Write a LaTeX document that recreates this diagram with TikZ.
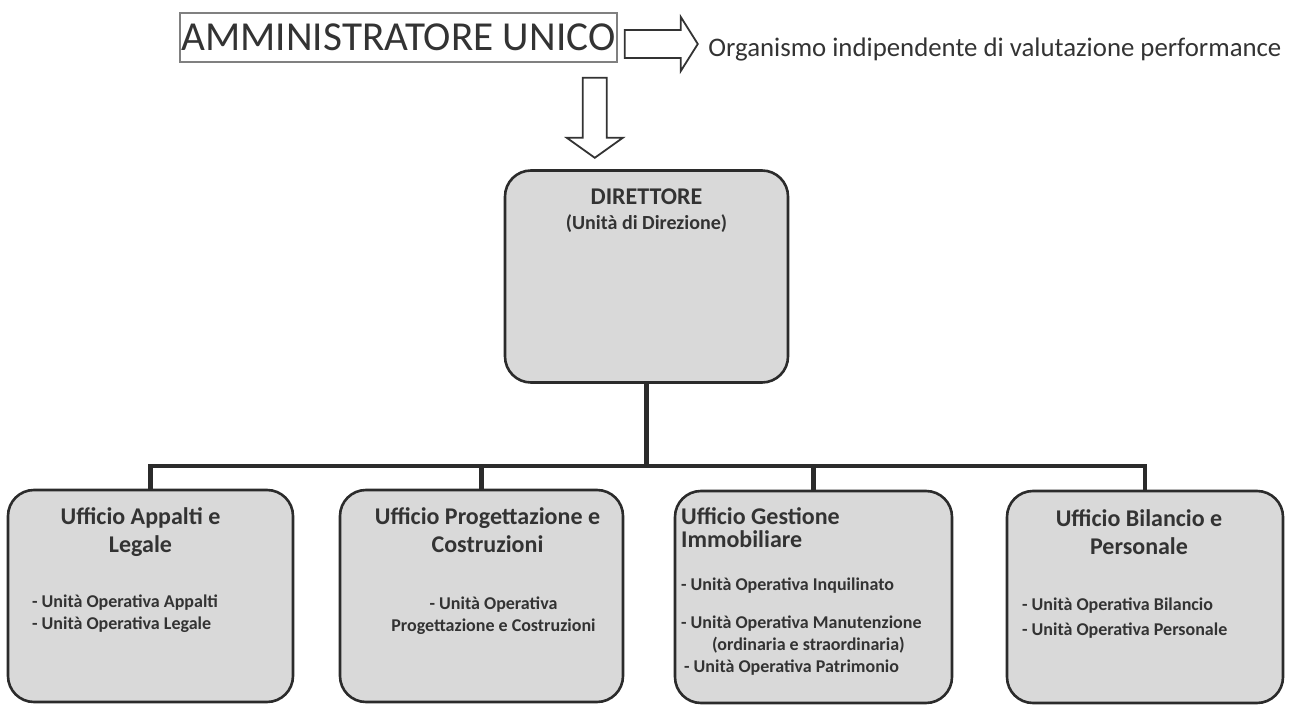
\documentclass[tikz,border=0pt]{standalone}
\usepackage{fontspec}
\setmainfont{Carlito}
\usetikzlibrary{positioning,calc}
\definecolor{boxfill}{HTML}{D9D9D9}
\definecolor{boxline}{HTML}{2B2B2B}
\definecolor{inkgray}{HTML}{333333}

\begin{document}
\begin{tikzpicture}[x=0.5pt, y=-0.5pt, every node/.style={inner sep=0pt, text=inkgray}]
        \tikzset{officebox/.style={draw=boxline, fill=boxfill, line width=1.3pt, rounded corners=13pt, minimum height=106pt}}
        \tikzset{boxtitle/.style={font=\fontsize{12}{14}\selectfont\bfseries, align=center}}
        \tikzset{unitlist/.style={font=\fontsize{9}{11}\selectfont\bfseries, align=left}}
        \tikzset{blockarrow/.style={draw=inkgray, line width=0.9pt, fill=white}}
        \tikzset{linkline/.style={draw=boxline, line width=2.3pt}}
        \useasboundingbox (0,0) rectangle (1289,705);
        % top level
        \node[draw=gray, line width=0.8pt, minimum width=218.5pt, minimum height=24.5pt, font=\fontsize{20.6}{24}\selectfont] (amm) at (398.5,37.5) {AMMINISTRATORE UNICO};
        \node[anchor=base west, font=\fontsize{13.4}{16}\selectfont] (oiv) at (708,57) {Organismo indipendente di valutazione performance};
        \draw[blockarrow] ($(amm.east)+(7,-7.5)$) -- ++(56,0) -- ++(0,-13) -- ++(17,27) -- ++(-17,27) -- ++(0,-13) -- ++(-56,0) -- cycle;
        \draw[blockarrow] ($(amm.south east)+(-35,15)$) -- ++(24,0) -- ++(0,60) -- ++(16,0) -- ++(-28,20) -- ++(-28,-20) -- ++(16,0) -- cycle;
        % direzione
        \node[officebox, minimum width=141.5pt] (dir) at (646.5,276.5) {};
        \node[below=17.5pt of dir.north, anchor=base, font=\fontsize{12}{14}\selectfont\bfseries] (dirname) {DIRETTORE};
        \node[below=12.5pt of dirname.base, anchor=base, font=\fontsize{10}{12}\selectfont\bfseries] (dirunit) {(Unità di Direzione)};
        % uffici
        \node[officebox, minimum width=142.5pt] (app) at (150.5,596) {};
        \node[officebox, minimum width=141.5pt] (prog) at (481.5,596) {};
        \node[officebox, minimum width=138.5pt] (imm) at (813.5,597) {};
        \node[officebox, minimum width=138pt] (bil) at (1145,597) {};
        \coordinate (bus) at (0,466);
        \foreach \u in {app,prog,imm,bil}
          \draw[linkline] (dir.south) -- (dir.south |- bus) -| (\u.north);
        \node[boxtitle, below=9.5pt of app.north, xshift=-5pt] (apptitle) {Ufficio Appalti e\\Legale};
        \node[unitlist, below right=53pt and 12.5pt of app.north west] (appunits) {- Unità Operativa Appalti\\- Unità Operativa Legale};
        \node[boxtitle, below=9.5pt of prog.north, xshift=3pt] (progtitle) {Ufficio Progettazione e\\Costruzioni};
        \node[unitlist, align=center, below=54pt of prog.north, xshift=6pt] (progunits) {- Unità Operativa\\Progettazione e Costruzioni};
        \node[boxtitle, align=left, font=\fontsize{12}{11.5}\selectfont\bfseries, below right=9pt and 3.5pt of imm.north west] (immtitle) {Ufficio Gestione\\Immobiliare};
        \node[unitlist, below right=44pt and 3.5pt of imm.north west] (immunits) {- Unità Operativa Inquilinato\\[8pt]- Unità Operativa Manutenzione\\\hspace*{15.5pt}(ordinaria e straordinaria)\\\hspace*{1.5pt}- Unità Operativa Patrimonio};
        \node[boxtitle, below=10pt of bil.north, xshift=-3pt] (biltitle) {Ufficio Bilancio e\\Personale};
        \node[unitlist, font=\fontsize{9}{12.5}\selectfont\bfseries, below right=54pt and 8pt of bil.north west] (bilunits) {- Unità Operativa Bilancio\\- Unità Operativa Personale};
\end{tikzpicture}
\end{document}
